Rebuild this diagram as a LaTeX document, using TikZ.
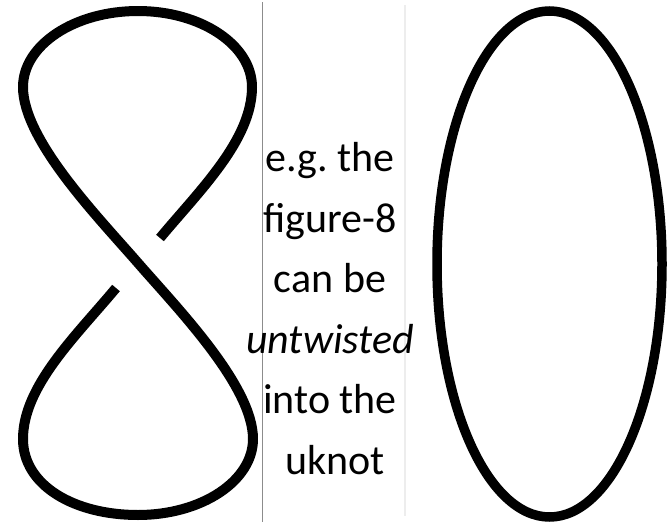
\documentclass[tikz,border=0pt]{standalone}
\usepackage{fontspec}
\setmainfont{Carlito}
\frenchspacing
\usetikzlibrary{positioning, calc}

\begin{document}
\begin{tikzpicture}[
        x=1pt, y=-1pt,
        knot/.style={draw=black, line width=10pt, line cap=butt, line join=round},
        unknot/.style={draw=black, line width=9.5pt},
        divider/.style={draw=#1, line width=1.2pt},
        caption/.style={align=center, inner sep=0pt, font=\fontsize{42}{60.5}\selectfont}
    ]
        \useasboundingbox (0,0) rectangle (667,522);

        % figure-8 knot, one strand with a gap at the crossing
        \coordinate (cross) at (138,263);
        \coordinate (gapA) at (160,238);
        \coordinate (gapB) at (116,288);
        \draw[knot] (gapA) .. controls (200,190) and (252,140) .. (252,87)
            .. controls (252,45) and (201,11) .. (138,11)
            .. controls (74.5,11) and (23,45) .. (23,87)
            .. controls (23,140) and (98,217) .. (cross)
            .. controls (178,309) and (253,386) .. (253,439)
            .. controls (253,481) and (201.5,515) .. (138,515)
            .. controls (75,515) and (23,486) .. (23,439)
            .. controls (23,386) and (76,336) .. (gapB);

        % unknot
        \draw[unknot] (549.5,264) ellipse [x radius=112.5, y radius=253];

        % dividers
        \draw[divider=gray!90] (262.5,2) -- (262.5,522);
        \draw[divider=black!7] (405,5) -- (405,516);

        \node[caption] (note) at (330,308.5) {e.g. the\\figure-8\\can be\\\textit{untwisted}\\into the\\\hspace*{.25em}uknot};

    \end{tikzpicture}
\end{document}
